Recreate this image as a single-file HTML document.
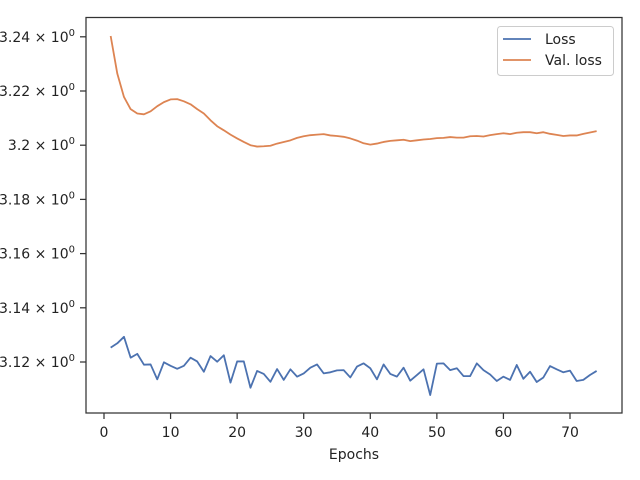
<!DOCTYPE html>
<html><head><meta charset="utf-8"><style>
body{margin:0;background:#fff;}
svg{display:block;font-family:"DejaVu Sans","Liberation Sans",sans-serif;}
</style></head><body>
<svg id="chart" width="640" height="480">
<rect x="86" y="17.5" width="536" height="395.5" fill="#fff" stroke="#333" stroke-width="1.25"/>
<g id="xticks"></g>
<g id="yticks"></g>
<g id="lines"></g>
<text x="354" y="459" font-size="14" text-anchor="middle" fill="#222">Epochs</text>
<g>
<rect x="497.5" y="26.5" width="116" height="49" rx="3" fill="#fff" stroke="#ccc"/>
<line x1="503" y1="39" x2="531" y2="39" stroke="#4c72b0" stroke-width="1.8"/>
<text x="545" y="44" font-size="14" fill="#222">Loss</text>
<line x1="503" y1="60" x2="531" y2="60" stroke="#dd8452" stroke-width="1.8"/>
<text x="545" y="65" font-size="14" fill="#222">Val. loss</text>
</g>
</svg>
<script>
const epochs = Array.from({length:74},(_, i)=>i+1);
const lossValues = [3.1253,3.1269,3.1293,3.1216,3.1230,3.1190,3.1191,3.1136,3.1199,3.1186,3.1175,3.1186,3.1216,3.1202,3.1164,3.1222,3.1201,3.1225,3.1124,3.1202,3.1202,3.1105,3.1167,3.1156,3.1127,3.1174,3.1134,3.1173,3.1146,3.1158,3.1179,3.1191,3.1158,3.1162,3.1169,3.1170,3.1143,3.1183,3.1195,3.1177,3.1136,3.1191,3.1156,3.1146,3.1179,3.1131,3.1152,3.1173,3.1078,3.1194,3.1195,3.1170,3.1177,3.1148,3.1148,3.1195,3.1170,3.1154,3.1130,3.1146,3.1134,3.1189,3.1138,3.1164,3.1126,3.1143,3.1185,3.1173,3.1162,3.1168,3.1130,3.1134,3.1152,3.1167];
const valLossValues = [3.2403,3.2264,3.2178,3.2133,3.2117,3.2114,3.2125,3.2144,3.2159,3.2169,3.2170,3.2162,3.2151,3.2133,3.2117,3.2092,3.2070,3.2055,3.2039,3.2025,3.2012,3.2000,3.1995,3.1996,3.1998,3.2006,3.2012,3.2018,3.2027,3.2033,3.2037,3.2039,3.2041,3.2036,3.2034,3.2031,3.2025,3.2017,3.2007,3.2002,3.2006,3.2012,3.2016,3.2018,3.2020,3.2015,3.2018,3.2021,3.2023,3.2026,3.2027,3.2030,3.2028,3.2028,3.2033,3.2034,3.2032,3.2037,3.2041,3.2044,3.2041,3.2046,3.2048,3.2048,3.2044,3.2048,3.2042,3.2038,3.2034,3.2036,3.2036,3.2042,3.2047,3.2052];
const xTicks = [0,10,20,30,40,50,60,70];
const yTicks = [3.12,3.14,3.16,3.18,3.2,3.22,3.24];
const yTickLabels = ["3.12","3.14","3.16","3.18","3.2","3.22","3.24"];

const NS="http://www.w3.org/2000/svg";
const xs = v => 104 + (v-0)*(570-104)/70;
const ys = v => 362 - (v-3.12)*(362-36.8)/0.12;
function mk(tag, attrs, parent){const e=document.createElementNS(NS,tag);for(const k in attrs)e.setAttribute(k,attrs[k]);parent.appendChild(e);return e;}

const gx=document.getElementById('xticks');
xTicks.forEach(t=>{
  const l=mk('line',{x1:xs(t),x2:xs(t),y1:413,y2:419,stroke:'#333','stroke-width':1.25},gx);
  
  
  const tx=mk('text',{x:xs(t),y:437,'font-size':14,'text-anchor':'middle',fill:'#222'},gx);
  tx.textContent=t;
  
  
});
const gy=document.getElementById('yticks');
yTicks.forEach((t,i)=>{
  const l=mk('line',{x1:80,x2:86,y1:ys(t),y2:ys(t),stroke:'#333','stroke-width':1.25},gy);
  
  
  const tx=mk('text',{x:75,y:ys(t)+5,'font-size':14,'text-anchor':'end',fill:'#222'},gy);
  tx.innerHTML=yTickLabels[i]+' × 10<tspan dy="-6" font-size="10">0</tspan>';
  
  
});
const gl=document.getElementById('lines');
function series(vals,color,name){
  const d=vals.map((v,i)=>(i?'L':'M')+xs(epochs[i]).toFixed(2)+','+ys(v).toFixed(2)).join(' ');
  const p=mk('path',{d:d,fill:'none',stroke:color,'stroke-width':1.8,'stroke-linejoin':'round'},gl);
  
  
}
series(lossValues,'#4c72b0','loss-line');
series(valLossValues,'#dd8452','val-loss-line');
</script>
</body></html>
